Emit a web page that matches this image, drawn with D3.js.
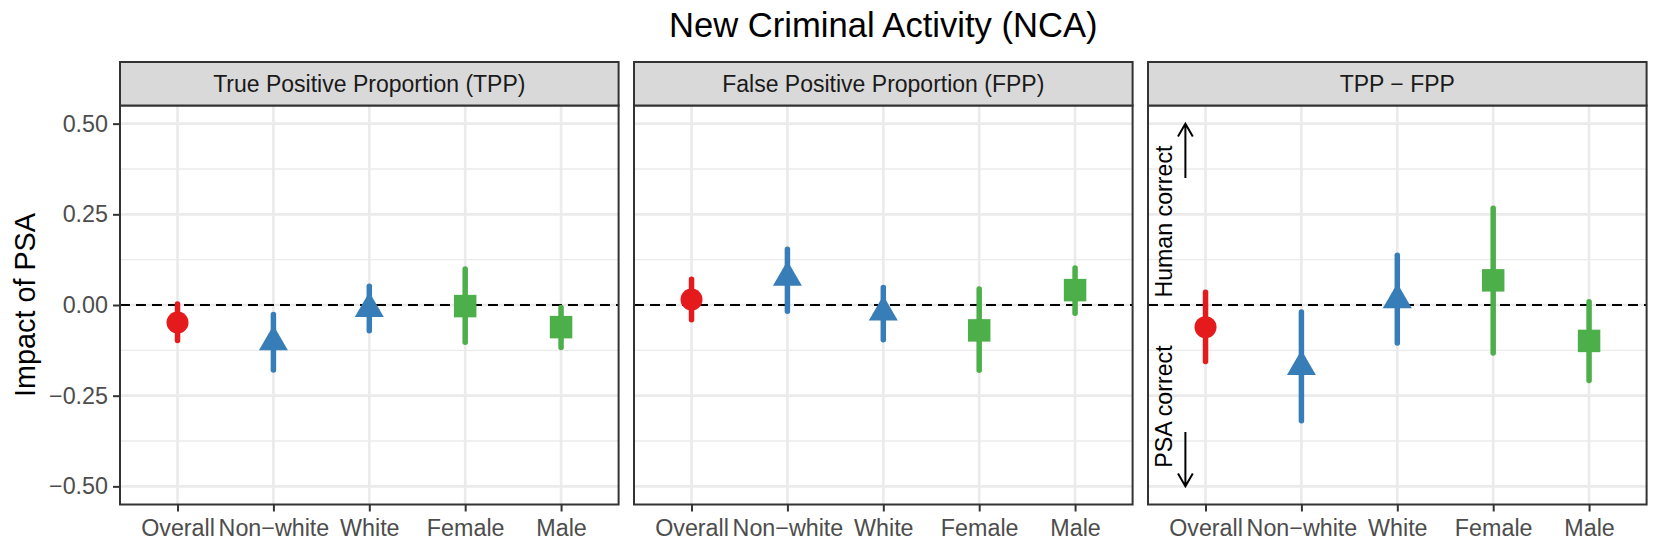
<!DOCTYPE html>
<html>

<head>
    <meta charset="utf-8">
    <title>New Criminal Activity (NCA)</title>
    <script src="https://cdnjs.cloudflare.com/ajax/libs/d3/7.8.5/d3.min.js"></script>
    <style>
        body { margin: 0; background: #fff; }
        text { font-family: "Liberation Sans", Arial, Helvetica, sans-serif; }
    </style>
</head>

<body>
    <div id="chart"></div>
    <script>
        // Data
        const groups = ["Overall", "Non\u2212white", "White", "Female", "Male"];
        const groupShapes = ["circle", "triangle", "triangle", "square", "square"];
        const groupColors = ["#E41A1C", "#377EB8", "#377EB8", "#4DAF4A", "#4DAF4A"];
        const facets = ["True Positive Proportion (TPP)", "False Positive Proportion (FPP)", "TPP \u2212 FPP"];

        const tppEst = [-0.048, -0.102, -0.010, -0.003, -0.061];
        const tppLo = [-0.098, -0.179, -0.071, -0.103, -0.117];
        const tppHi = [0.003, -0.026, 0.052, 0.099, -0.007];

        const fppEst = [0.015, 0.076, -0.020, -0.070, 0.041];
        const fppLo = [-0.041, -0.017, -0.096, -0.180, -0.023];
        const fppHi = [0.071, 0.154, 0.048, 0.044, 0.102];

        const diffEst = [-0.061, -0.170, 0.014, 0.068, -0.099];
        const diffLo = [-0.156, -0.319, -0.105, -0.132, -0.208];
        const diffHi = [0.035, -0.019, 0.137, 0.267, 0.009];

        const yMajor = [-0.5, -0.25, 0, 0.25, 0.5];
        const yMinor = [-0.375, -0.125, 0.125, 0.375];

        const panelData = [
            [tppEst, tppLo, tppHi],
            [fppEst, fppLo, fppHi],
            [diffEst, diffLo, diffHi]
        ];

        // Layout
        const W = 1661, H = 554;
        const panelLeft = [120, 634, 1148];
        const panelW = 498.6;
        const stripTop = 62, panelTop = 105.5, panelBottom = 504.5;
        const tickFont = "23.3px";

        const svg = d3.select("#chart")
            .append("svg")
            .attr("width", W)
            .attr("height", H);

        const y = d3.scaleLinear()
            .domain([-0.55, 0.55])
            .range([panelBottom, panelTop]);

        const symbolType = { circle: d3.symbolCircle, triangle: d3.symbolTriangle, square: d3.symbolSquare };
        const symbolSize = { circle: 380, triangle: 364, square: 506 };

        // Title
        svg.append("text")
            .attr("x", (panelLeft[0] + panelLeft[2] + panelW) / 2)
            .attr("y", 37)
            .attr("text-anchor", "middle")
            .attr("font-size", "34.6px")
            .attr("fill", "#000")
            .text("New Criminal Activity (NCA)");

        // Y axis title
        svg.append("text")
            .attr("transform", `translate(35,${(panelTop + panelBottom) / 2}) rotate(-90)`)
            .attr("text-anchor", "middle")
            .attr("font-size", "28.8px")
            .attr("fill", "#000")
            .text("Impact of PSA");

        facets.forEach((facet, p) => {
            const x0 = panelLeft[p];
            const g = svg.append("g");

            const x = d3.scalePoint()
                .domain(groups)
                .range([x0, x0 + panelW])
                .padding(0.6);

            // Panel background
            g.append("rect")
                .attr("x", x0).attr("y", panelTop)
                .attr("width", panelW).attr("height", panelBottom - panelTop)
                .attr("fill", "#fff");

            // Grid lines
            g.selectAll(".minor")
                .data(yMinor)
                .enter().append("line")
                .attr("x1", x0).attr("x2", x0 + panelW)
                .attr("y1", d => y(d)).attr("y2", d => y(d))
                .attr("stroke", "#ebebeb").attr("stroke-width", 1.4);

            g.selectAll(".major")
                .data(yMajor)
                .enter().append("line")
                .attr("x1", x0).attr("x2", x0 + panelW)
                .attr("y1", d => y(d)).attr("y2", d => y(d))
                .attr("stroke", "#ebebeb").attr("stroke-width", 2.7);

            g.selectAll(".vgrid")
                .data(groups)
                .enter().append("line")
                .attr("x1", d => x(d)).attr("x2", d => x(d))
                .attr("y1", panelTop).attr("y2", panelBottom)
                .attr("stroke", "#ebebeb").attr("stroke-width", 2.7);

            // Zero reference line
            g.append("line")
                .attr("x1", x0).attr("x2", x0 + panelW)
                .attr("y1", y(0)).attr("y2", y(0))
                .attr("stroke", "#000").attr("stroke-width", 2)
                .attr("stroke-dasharray", "10,6");

            const [est, lo, hi] = panelData[p];
            const rows = groups.map((grp, i) => ({ grp, est: est[i], lo: lo[i], hi: hi[i], shape: groupShapes[i], color: groupColors[i] }));

            // Interval bars
            g.selectAll(".ci")
                .data(rows)
                .enter().append("line")
                .attr("x1", d => x(d.grp)).attr("x2", d => x(d.grp))
                .attr("y1", d => y(d.lo)).attr("y2", d => y(d.hi))
                .attr("stroke", d => d.color)
                .attr("stroke-width", 5.5)
                .attr("stroke-linecap", "round");

            // Point estimates
            g.selectAll(".pt")
                .data(rows)
                .enter().append("path")
                .attr("transform", d => `translate(${x(d.grp)},${y(d.est)})`)
                .attr("d", d => d3.symbol().type(symbolType[d.shape]).size(symbolSize[d.shape])())
                .attr("fill", d => d.color);

            // Annotations in the difference panel
            if (p === 2) {
                const xu = d3.scaleLinear().domain([0.4, 5.6]).range([x0, x0 + panelW]);
                const ax = xu(0.79);
                g.append("path")
                    .attr("d", `M${ax},${y(0.35)}V${y(0.5)}M${ax - 7.4},${y(0.5) + 12.8}L${ax},${y(0.5)}L${ax + 7.4},${y(0.5) + 12.8}`)
                    .attr("stroke", "#000").attr("stroke-width", 2).attr("fill", "none");
                g.append("path")
                    .attr("d", `M${ax},${y(-0.35)}V${y(-0.5)}M${ax - 7.4},${y(-0.5) - 12.8}L${ax},${y(-0.5)}L${ax + 7.4},${y(-0.5) - 12.8}`)
                    .attr("stroke", "#000").attr("stroke-width", 2).attr("fill", "none");

                g.append("text")
                    .attr("transform", `translate(${xu(0.565)},${y(0.23)}) rotate(-90)`)
                    .attr("text-anchor", "middle")
                    .attr("dominant-baseline", "central")
                    .attr("font-size", "23.2px")
                    .attr("fill", "#000")
                    .text("Human correct");
                g.append("text")
                    .attr("transform", `translate(${xu(0.565)},${y(-0.28)}) rotate(-90)`)
                    .attr("text-anchor", "middle")
                    .attr("dominant-baseline", "central")
                    .attr("font-size", "23.2px")
                    .attr("fill", "#000")
                    .text("PSA correct");
            }

            // Panel border
            g.append("rect")
                .attr("x", x0).attr("y", panelTop)
                .attr("width", panelW).attr("height", panelBottom - panelTop)
                .attr("fill", "none").attr("stroke", "#333").attr("stroke-width", 2);

            // Strip
            g.append("rect")
                .attr("x", x0).attr("y", stripTop)
                .attr("width", panelW).attr("height", panelTop - stripTop)
                .attr("fill", "#d9d9d9").attr("stroke", "#333").attr("stroke-width", 2);
            g.append("text")
                .attr("x", x0 + panelW / 2)
                .attr("y", (stripTop + panelTop) / 2)
                .attr("text-anchor", "middle")
                .attr("dominant-baseline", "central")
                .attr("font-size", "23px")
                .attr("fill", "#1a1a1a")
                .text(facet);

            // X axis
            const xAxis = g.append("g")
                .attr("transform", `translate(0,${panelBottom})`)
                .call(d3.axisBottom(x).tickSize(7).tickPadding(8));
            xAxis.select(".domain").remove();
            xAxis.selectAll(".tick line").attr("stroke", "#333").attr("stroke-width", 2);
            xAxis.selectAll(".tick text")
                .attr("font-size", tickFont)
                .attr("font-family", "'Liberation Sans', Arial, Helvetica, sans-serif")
                .attr("fill", "#4d4d4d");

            // Y axis (first panel only)
            if (p === 0) {
                const yAxis = g.append("g")
                    .attr("transform", `translate(${x0},0)`)
                    .call(d3.axisLeft(y).tickValues(yMajor).tickFormat(d3.format(".2f")).tickSize(7).tickPadding(5));
                yAxis.select(".domain").remove();
                yAxis.selectAll(".tick line").attr("stroke", "#333").attr("stroke-width", 2);
                yAxis.selectAll(".tick text")
                    .attr("font-size", tickFont)
                    .attr("font-family", "'Liberation Sans', Arial, Helvetica, sans-serif")
                    .attr("fill", "#4d4d4d");
            }
        });
    </script>
</body>

</html>
